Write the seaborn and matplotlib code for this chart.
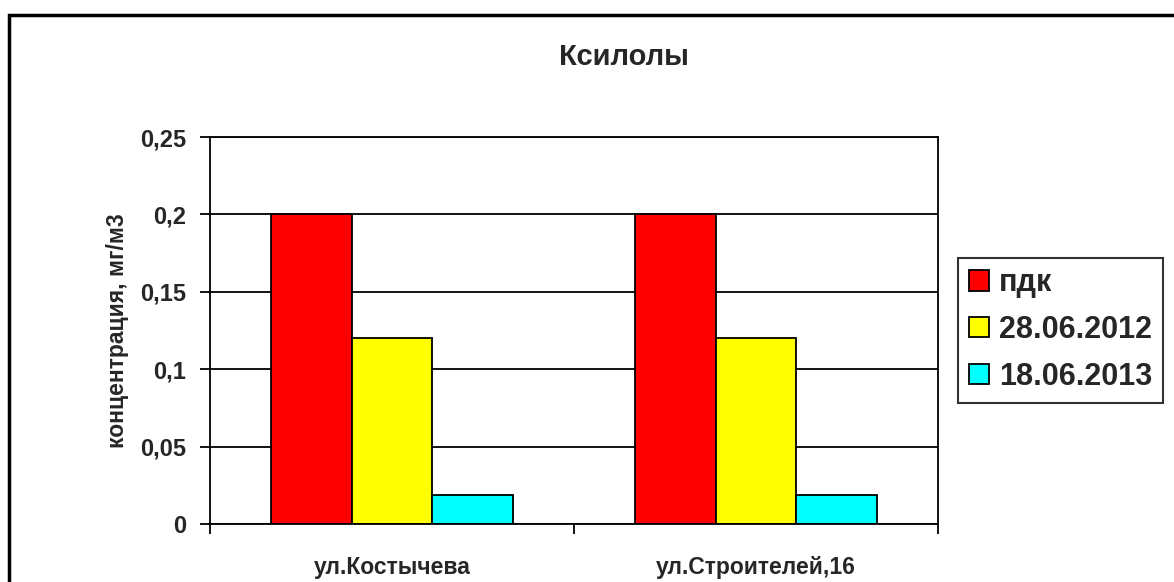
import numpy as np
import pandas as pd
import seaborn as sns
import matplotlib.pyplot as plt
from matplotlib.patches import Rectangle
from matplotlib.ticker import FuncFormatter

# ── Data ─────────────────────────────────────────────────────────────
places = ['ул.Костычева', 'ул.Строителей,16']
series = ['пдк', '28.06.2012', '18.06.2013']
pdk = [0.2, 0.2]
d2012 = [0.12, 0.12]
d2013 = [0.019, 0.019]
colors = ['#FF0000', '#FFFF00', '#00FFFF']

df = pd.DataFrame({
    'place': places * 3,
    'series': [s for s in series for _ in places],
    'value': pdk + d2012 + d2013,
})

# ── Figure ───────────────────────────────────────────────────────────
sns.set_theme(style='white')
plt.rcParams['font.family'] = ['Liberation Sans', 'DejaVu Sans']
plt.rcParams['font.weight'] = 'bold'

W, H = 1174, 582
fig = plt.figure(figsize=(W / 100, H / 100), dpi=100)
ax = fig.add_axes([210 / W, 1 - 524 / H, (938 - 210) / W, (524 - 137) / H])

sns.barplot(
    data=df, x='place', y='value', hue='series',
    hue_order=series, palette=colors, saturation=1,
    width=0.667, edgecolor='black', linewidth=1.3, ax=ax,
)

ax.set_xlim(-0.5, 1.5)
ax.set_ylim(0, 0.25)
ax.set_yticks([0, 0.05, 0.1, 0.15, 0.2, 0.25])
ax.yaxis.set_major_formatter(FuncFormatter(lambda v, p: f'{v:g}'.replace('.', ',')))
ax.yaxis.grid(True, color='black', lw=1.3)
ax.set_axisbelow(True)
for sp in ax.spines.values():
    sp.set_color('black')
    sp.set_linewidth(1.3)
    sp.set_visible(True)

ax.tick_params(axis='y', which='major', length=7, width=1.3, color='black',
               direction='out', left=True, labelsize=17, pad=10)
ax.set_xticks([0, 1])
ax.set_xticklabels(places, fontsize=16.5, fontweight='bold')
ax.tick_params(axis='x', which='major', length=0, pad=23)
ax.set_xticks([-0.5, 0.5, 1.5], minor=True)
ax.tick_params(axis='x', which='minor', length=7, width=1.3, color='black',
               direction='out', bottom=True)
for lbl in ax.get_yticklabels():
    lbl.set_fontweight('bold')

ax.set_xlabel('')
ax.set_ylabel('концентрация, мг/м3', fontsize=16.5, fontweight='bold', labelpad=8)

fig.text(624 / W, 1 - 57 / H, 'Ксилолы', ha='center', va='center',
         fontsize=21, fontweight='bold')

handles, labels = ax.get_legend_handles_labels()
ax.legend_.remove()
leg = fig.legend(
    handles, labels, loc='center left',
    bbox_to_anchor=(958 / W, 1 - 330 / H),
    prop={'weight': 'bold', 'size': 22},
    frameon=True, fancybox=False, handlelength=0.65, handleheight=0.65,
    handletextpad=0.35, borderpad=0.35, labelspacing=0.55, borderaxespad=0,
)
leg.get_frame().set_edgecolor('black')
leg.get_frame().set_linewidth(1.5)

# outer chart border
fig.patches.append(Rectangle((9 / W, -0.1), 1.2, 1.1 - 15 / H,
                             transform=fig.transFigure, fill=False,
                             edgecolor='black', lw=2.5, clip_on=False))

fig.savefig('out.png', dpi=100)
